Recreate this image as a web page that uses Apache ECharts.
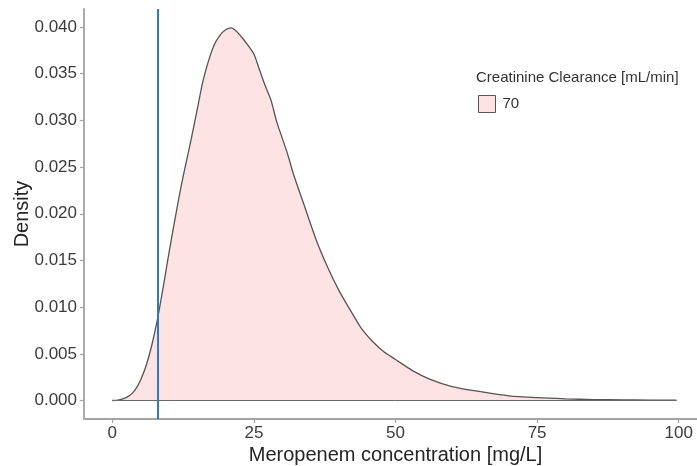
<!DOCTYPE html>
<html>
<head>
<meta charset="utf-8">
<script src="https://cdn.jsdelivr.net/npm/echarts@6.0.0/dist/echarts.min.js"></script>
<style>
html,body{margin:0;padding:0;background:#fff;}
#chart{width:697px;height:466px;}
</style>
</head>
<body>
<div id="chart"></div>
<script>
// Meropenem concentration [mg/L] (x) and kernel density (y)
const concentration = [0,1,2,3,4,5,6,7,8,9,10,11,12,13,14,15,16,17,18,19,20,21,22,23,24,25,26,27,28,29,30,31,32,34,36,38,40,42,44,46,48,50,53,56,60,65,70,75,80,85,90,95,99.6];
const density = [0.0000,0.00005,0.0002,0.0005,0.0011,0.0022,0.0038,0.0060,0.0088,0.0122,0.0158,0.0192,0.0225,0.0254,0.0282,0.0312,0.0342,0.0364,0.0381,0.0391,0.0397,0.0399,0.0395,0.0388,0.0380,0.0371,0.0354,0.0337,0.0322,0.0299,0.0281,0.0263,0.0242,0.0207,0.0172,0.0143,0.0118,0.0097,0.0077,0.0063,0.0052,0.0044,0.0032,0.0023,0.0015,0.00095,0.0005,0.0003,0.00018,0.0001,0.00007,0.00005,0.00003];
const seriesName = '70';
const legendTitle = 'Creatinine Clearance [mL/min]';
const referenceLines = [8];
const xTicks = [0,25,50,75,100];
const yTicks = [0.000,0.005,0.010,0.015,0.020,0.025,0.030,0.035,0.040];
const xTitle = 'Meropenem concentration [mg/L]';
const yTitle = 'Density';

const curve = concentration.map((c, i) => [c, density[i]]);
const baseline = [[concentration[0], 0], [concentration[concentration.length - 1], 0]];

const chart = echarts.init(document.getElementById('chart'), null, {renderer: 'canvas'});
const axisColor = '#a3a3a3';
const labelColor = '#3c3c3c';
chart.setOption({
  animation: false,
  backgroundColor: '#ffffff',
  title: {
    text: legendTitle,
    left: 476, top: 70, padding: 0,
    textStyle: {fontFamily: 'Liberation Sans, Arial, sans-serif', fontSize: 15, fontWeight: 'normal', color: '#333'}
  },
  legend: {
    left: 478, top: 95, padding: 0,
    itemWidth: 17, itemHeight: 17, itemGap: 6,
    data: [{name: seriesName, icon: 'rect'}],
    itemStyle: {color: '#fde3e3', borderColor: '#555', borderWidth: 1},
    textStyle: {fontFamily: 'Liberation Sans, Arial, sans-serif', fontSize: 15, color: '#333', padding: [0,0,0,2]}
  },
  grid: {left: 84, right: -10, top: 9, bottom: 47, containLabel: false, outerBoundsMode: 'none'},
  xAxis: {
    type: 'value', min: -5, max: 105,
    name: xTitle, nameLocation: 'middle', nameGap: 26, nameMoveOverlap: false,
    nameTextStyle: {fontFamily: 'Liberation Sans, Arial, sans-serif', fontSize: 20, color: '#262626'},
    axisLine: {show: true, onZero: false, lineStyle: {color: axisColor, width: 1.8}},
    axisTick: {show: true, length: 4, customValues: xTicks, lineStyle: {color: axisColor, width: 1.2}},
    axisLabel: {customValues: xTicks, margin: 6, fontFamily: 'Liberation Sans, Arial, sans-serif', fontSize: 17, color: labelColor},
    splitLine: {show: false}
  },
  yAxis: {
    type: 'value', min: -0.00198, max: 0.04193,
    name: yTitle, nameLocation: 'middle', nameGap: 52, nameRotate: 90, nameMoveOverlap: false,
    nameTextStyle: {fontFamily: 'Liberation Sans, Arial, sans-serif', fontSize: 20, color: '#262626'},
    axisLine: {show: true, onZero: false, lineStyle: {color: axisColor, width: 1.8}},
    axisTick: {show: true, length: 4, customValues: yTicks, lineStyle: {color: axisColor, width: 1.2}},
    axisLabel: {customValues: yTicks, margin: 7, fontFamily: 'Liberation Sans, Arial, sans-serif', fontSize: 17, color: labelColor,
      formatter: v => v.toFixed(3)},
    splitLine: {show: false}
  },
  series: [
    {
      name: seriesName,
      type: 'line',
      data: curve,
      showSymbol: false,
      smooth: 0.25,
      lineStyle: {color: '#555555', width: 1.3},
      itemStyle: {color: '#fde3e3', borderColor: '#555'},
      areaStyle: {color: '#fde3e3', opacity: 1, origin: 0},
      z: 2
    },
    {
      name: 'baseline',
      type: 'line',
      data: baseline,
      showSymbol: false,
      lineStyle: {color: '#6a6a6a', width: 1},
      silent: true,
      z: 3,
      markLine: {
        silent: true,
        symbol: 'none',
        label: {show: false},
        lineStyle: {color: '#2f7bbf', width: 2, type: 'solid'},
        data: referenceLines.map(v => ({xAxis: v}))
      }
    }
  ]
});
</script>
</body>
</html>
